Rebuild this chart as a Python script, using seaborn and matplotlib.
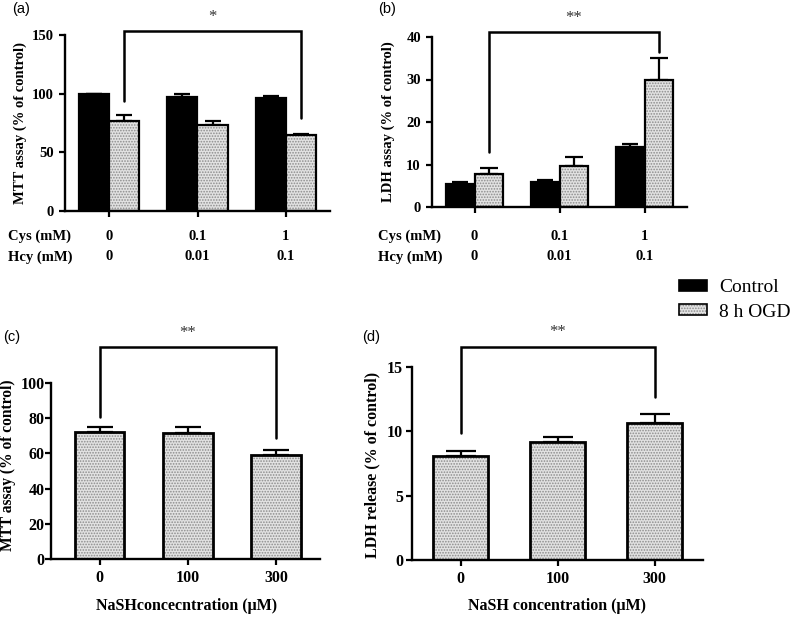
import numpy as np
import pandas as pd
import matplotlib
matplotlib.use("Agg")
import matplotlib.pyplot as plt
import seaborn as sns
from matplotlib.patches import Patch
from matplotlib.colors import to_rgba
from matplotlib.transforms import blended_transform_factory

# ---------------- data ----------------
conditions = ["Control", "8 h OGD"]
cys_labels = ["0", "0.1", "1"]
hcy_labels = ["0", "0.01", "0.1"]

a_ctrl = [100.0, 97.0, 96.0]
a_ctrl_sem = [0.0, 2.5, 2.0]
a_ogd = [77.0, 73.5, 64.5]
a_ogd_sem = [4.5, 3.0, 1.2]

b_ctrl = [5.5, 6.0, 14.2]
b_ctrl_sem = [0.5, 0.4, 0.6]
b_ogd = [7.8, 9.6, 29.9]
b_ogd_sem = [1.4, 2.1, 5.2]

nash_conc = ["0", "100", "300"]
c_mtt = [72.0, 71.5, 59.0]
c_sem = [3.0, 3.5, 2.8]
d_ldh = [8.1, 9.15, 10.65]
d_sem = [0.4, 0.4, 0.7]

# significance brackets: [top, left foot, right foot]
a_bracket = [153.0, 94.0, 79.0]
b_bracket = [41.2, 13.0, 36.5]
c_bracket = [120.3, 80.8, 68.6]
d_bracket = [16.55, 9.85, 12.64]

# ---------------- style ----------------
sns.set_theme(style="ticks")
plt.rcParams["font.family"] = ["Liberation Serif", "DejaVu Serif"]
plt.rcParams.update({
    "font.weight": "bold",
    "axes.labelweight": "bold",
    "text.color": "black",
    "axes.labelcolor": "black",
    "xtick.color": "black",
    "ytick.color": "black",
    "axes.edgecolor": "black",
    "hatch.linewidth": 0.8,
})

FS = 10.5
FS2 = 11.5
HATCH_FACE = "#e2e2e2"
HATCH_COL = "#8c8c8c"


def set_hatch_color(p, col):
    if hasattr(p, "set_hatchcolor"):
        p.set_hatchcolor(col)
    else:
        p._hatch_color = to_rgba(col)


def style_axes(ax, ymax, yticks, fs, ypad=4):
    ax.set_ylim(0, ymax)
    ax.set_yticks(yticks)
    ax.set_xlim(-0.5, 2.5)
    sns.despine(ax=ax)
    for s in ["left", "bottom"]:
        ax.spines[s].set_linewidth(1.7)
    ax.tick_params(axis="both", width=1.6, length=4, labelsize=fs, pad=4)
    ax.tick_params(axis="y", pad=ypad)
    for lbl in ax.get_yticklabels() + ax.get_xticklabels():
        lbl.set_fontweight("bold")
    ax.set_xlabel("")


def hatch_container(ax, cont):
    for p in cont:
        p.set_hatch("......")
        set_hatch_color(p, HATCH_COL)


def add_err(ax, cont, means, sems, capsize):
    xs = [p.get_x() + p.get_width() / 2 for p in cont]
    ax.errorbar(xs, means, yerr=[np.zeros(len(sems)), sems], fmt="none",
                ecolor="black", elinewidth=1.6, capsize=capsize, capthick=1.6,
                zorder=1)


def bracket(ax, x1, x2, br, label):
    top, f1, f2 = br
    ax.plot([x1, x1, x2, x2], [f1, top, top, f2], color="black", lw=1.8,
            clip_on=False, solid_joinstyle="miter", zorder=5)
    ax.text((x1 + x2) / 2, top + (ax.get_ylim()[1] * 0.035), label,
            ha="center", va="bottom", fontsize=12, fontweight="normal",
            color="#333333", clip_on=False)


fig = plt.figure(figsize=(8, 6.2), dpi=100)

# ---------------- panel (a) ----------------
ax_a = fig.add_axes([65 / 800, 1 - 211 / 620, 265 / 800, 176 / 620])
df_a = pd.DataFrame({
    "group": cys_labels * 2,
    "cond": [conditions[0]] * 3 + [conditions[1]] * 3,
    "value": a_ctrl + a_ogd,
})
sns.barplot(data=df_a, x="group", y="value", hue="cond", hue_order=conditions,
            order=cys_labels, palette={conditions[0]: "black", conditions[1]: HATCH_FACE},
            width=0.68, errorbar=None, edgecolor="black", linewidth=1.6,
            legend=False, ax=ax_a, zorder=2)
hatch_container(ax_a, ax_a.containers[1])
add_err(ax_a, ax_a.containers[0], a_ctrl, a_ctrl_sem, 5.5)
add_err(ax_a, ax_a.containers[1], a_ogd, a_ogd_sem, 5.5)
style_axes(ax_a, 150, [0, 50, 100, 150], FS)
ax_a.set_xticklabels([])
ax_a.set_ylabel("MTT assay (% of control)", fontsize=FS)
ax_a.yaxis.set_label_coords(-0.143, 0.5)
oc = ax_a.containers[1]
bracket(ax_a, oc[0].get_x() + oc[0].get_width() / 2,
        oc[2].get_x() + oc[2].get_width() / 2, a_bracket, "*")

# ---------------- panel (b) ----------------
ax_b = fig.add_axes([432 / 800, 1 - 207 / 620, 255 / 800, 170 / 620])
df_b = pd.DataFrame({
    "group": cys_labels * 2,
    "cond": [conditions[0]] * 3 + [conditions[1]] * 3,
    "value": b_ctrl + b_ogd,
})
sns.barplot(data=df_b, x="group", y="value", hue="cond", hue_order=conditions,
            order=cys_labels, palette={conditions[0]: "black", conditions[1]: HATCH_FACE},
            width=0.68, errorbar=None, edgecolor="black", linewidth=1.6,
            legend=False, ax=ax_b, zorder=2)
hatch_container(ax_b, ax_b.containers[1])
add_err(ax_b, ax_b.containers[0], b_ctrl, b_ctrl_sem, 5.5)
add_err(ax_b, ax_b.containers[1], b_ogd, b_ogd_sem, 6.5)
style_axes(ax_b, 40, [0, 10, 20, 30, 40], FS)
ax_b.set_xticklabels([])
ax_b.set_ylabel("LDH assay (% of control)", fontsize=FS)
ax_b.yaxis.set_label_coords(-0.145, 0.5)
oc = ax_b.containers[1]
bracket(ax_b, oc[0].get_x() + oc[0].get_width() / 2,
        oc[2].get_x() + oc[2].get_width() / 2, b_bracket, "**")

# Cys / Hcy rows for (a) and (b)
for ax, x0 in [(ax_a, 8), (ax_b, 378)]:
    tr = blended_transform_factory(ax.transData, fig.transFigure)
    for i, (cy, hc) in enumerate(zip(cys_labels, hcy_labels)):
        ax.text(i, 1 - 236 / 620, cy, transform=tr, ha="center", va="center",
                fontsize=FS, fontweight="bold")
        ax.text(i, 1 - 257 / 620, hc, transform=tr, ha="center", va="center",
                fontsize=FS, fontweight="bold")
    fig.text(x0 / 800, 1 - 236 / 620, "Cys (mM)", ha="left", va="center",
             fontsize=FS, fontweight="bold")
    fig.text(x0 / 800, 1 - 257 / 620, "Hcy (mM)", ha="left", va="center",
             fontsize=FS, fontweight="bold")

# ---------------- panel (c) ----------------
ax_c = fig.add_axes([51 / 800, 1 - 559 / 620, 269 / 800, 176 / 620])
sns.barplot(x=nash_conc, y=c_mtt, order=nash_conc, color=HATCH_FACE,
            width=0.565, errorbar=None, edgecolor="black", linewidth=2.0,
            ax=ax_c, zorder=2)
hatch_container(ax_c, ax_c.containers[0])
add_err(ax_c, ax_c.containers[0], c_mtt, c_sem, 9.5)
style_axes(ax_c, 100, [0, 20, 40, 60, 80, 100], FS2, ypad=0.5)
ax_c.set_xlim(-0.55, 2.5)
ax_c.set_ylabel("MTT assay (% of control)", fontsize=11.2)
ax_c.yaxis.set_label_coords(-0.13, 0.53)
ax_c.set_xlabel("NaSHconcecntration (\u03bcM)", fontsize=FS2)
ax_c.xaxis.set_label_coords(0.505, -0.222)
cc = ax_c.containers[0]
bracket(ax_c, cc[0].get_x() + cc[0].get_width() / 2,
        cc[2].get_x() + cc[2].get_width() / 2, c_bracket, "**")

# ---------------- panel (d) ----------------
ax_d = fig.add_axes([412 / 800, 1 - 560 / 620, 291 / 800, 193 / 620])
sns.barplot(x=nash_conc, y=d_ldh, order=nash_conc, color=HATCH_FACE,
            width=0.56, errorbar=None, edgecolor="black", linewidth=2.0,
            ax=ax_d, zorder=2)
hatch_container(ax_d, ax_d.containers[0])
add_err(ax_d, ax_d.containers[0], d_ldh, d_sem, 11)
style_axes(ax_d, 15, [0, 5, 10, 15], FS2, ypad=2.5)
ax_d.set_ylabel("LDH release (% of control)", fontsize=FS2)
ax_d.yaxis.set_label_coords(-0.110, 0.49)
ax_d.set_xlabel("NaSH concentration (\u03bcM)", fontsize=FS2)
ax_d.xaxis.set_label_coords(0.498, -0.197)
dc = ax_d.containers[0]
bracket(ax_d, dc[0].get_x() + dc[0].get_width() / 2,
        dc[2].get_x() + dc[2].get_width() / 2, d_bracket, "**")

# ---------------- panel letters ----------------
for x, y, t in [(12, 9, "(a)"), (378, 9, "(b)"), (3, 337, "(c)"), (362, 337, "(d)")]:
    fig.text(x / 800, 1 - y / 620, t, ha="left", va="center", fontsize=10.5,
             fontweight="normal", family=["Liberation Sans", "DejaVu Sans"])

# ---------------- legend ----------------
h_ctrl = Patch(facecolor="black", edgecolor="black", linewidth=1.2)
h_ogd = Patch(facecolor=HATCH_FACE, edgecolor="black", linewidth=1.2, hatch="......")
set_hatch_color(h_ogd, HATCH_COL)
leg = fig.legend([h_ctrl, h_ogd], conditions, loc="upper left",
                 bbox_to_anchor=(679 / 800, 1 - 279 / 620), frameon=False,
                 prop={"family": "Liberation Serif", "size": 14, "weight": "normal"},
                 handlelength=1.45, handleheight=0.5, handletextpad=0.6,
                 labelspacing=0.4, borderpad=0, borderaxespad=0)

fig.savefig("out.png", dpi=100)
